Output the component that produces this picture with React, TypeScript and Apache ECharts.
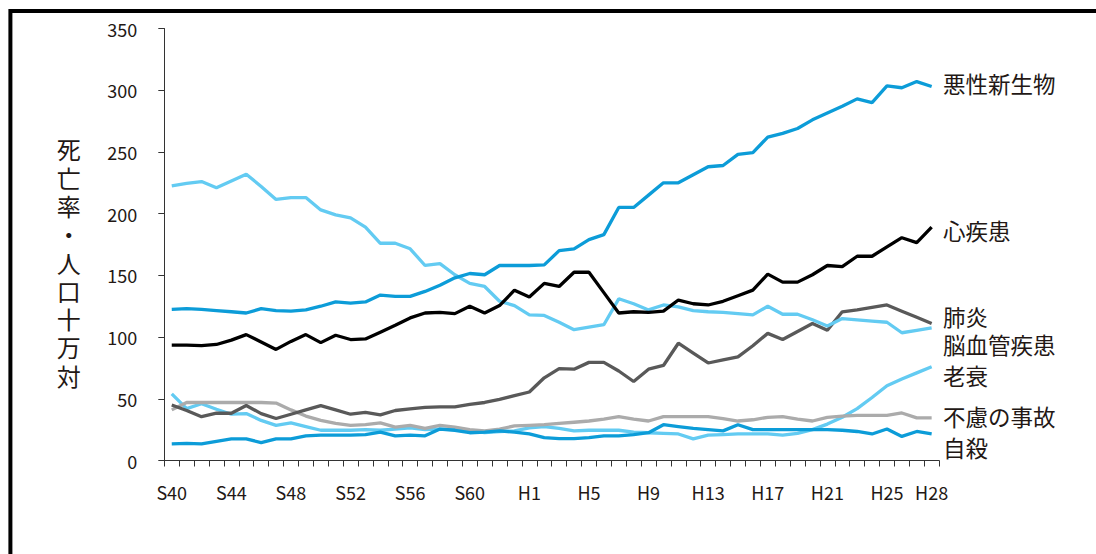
import React, { useEffect, useRef } from "react";
import * as echarts from "echarts";

const categories = [
  "S40","S41","S42","S43","S44","S45","S46","S47","S48","S49","S50","S51","S52","S53","S54","S55",
  "S56","S57","S58","S59","S60","S61","S62","S63","H1","H2","H3","H4","H5","H6","H7","H8","H9",
  "H10","H11","H12","H13","H14","H15","H16","H17","H18","H19","H20","H21","H22","H23","H24","H25",
  "H26","H27","H28",
];

const seriesNames = ["悪性新生物", "心疾患", "肺炎", "脳血管疾患", "老衰", "不慮の事故", "自殺"];

const cancer = [122.5, 123, 122.5, 121.5, 120.5, 119.5, 123, 121.5, 121, 122, 125, 128.5, 127.5, 128.5, 134, 133, 133, 137, 142, 148, 151.5, 150.5, 158, 158, 158, 158.5, 170, 171.5, 179, 183, 205, 205, 215, 225, 225, 231.5, 238, 239, 248, 249.5, 262, 265, 269, 276, 281.5, 287, 293, 290, 303.5, 302, 307, 303];
const heart = [93.5, 93.5, 93, 94, 97.5, 102, 96, 90, 96.5, 102, 95.5, 101.5, 98, 98.5, 104, 109.5, 115.5, 119.5, 120, 119, 125, 119.5, 125.5, 138, 132.5, 143.5, 141, 152.5, 152.5, 136, 119.5, 120.5, 120, 121, 130, 127, 126, 129, 133.5, 138, 151, 144.5, 144.5, 150.5, 158, 157, 165.5, 165.5, 173, 180.5, 176.5, 189];
const pneumonia = [45, 40.5, 35.5, 38.3, 38.3, 44.5, 38, 34, 37.5, 41, 44.5, 41, 37.5, 39, 37, 40.5, 41.8, 43, 43.5, 43.5, 45.5, 47, 49.5, 52.5, 55.5, 67, 74.5, 74, 79.5, 79.5, 72.5, 64, 74, 77, 95, 87, 79, 81.5, 84, 93, 103, 98, 104.5, 111, 105.5, 120.5, 122, 124, 126, 121, 116, 111];
const cerebro = [222.5, 224.5, 226, 221, 226.5, 232, 222, 211.5, 213, 213, 203, 199, 196.5, 189, 176, 176, 171.5, 158, 159.5, 150.5, 143.5, 141, 129, 125.5, 118, 117.5, 112, 106, 108, 110, 131, 127, 122, 126, 124.5, 121.5, 120.5, 120, 119, 118, 125, 118.5, 118.5, 114, 109, 115, 114, 113, 112, 103.5, 105.5, 107.5];
const senility = [54, 42, 46, 41.5, 37.5, 38, 32.5, 28.5, 30.5, 27.5, 24.5, 24.5, 24.5, 25, 24.5, 25.5, 26.5, 25, 25.5, 25, 24, 22.5, 23.5, 24, 26.5, 27.5, 26, 24, 24.5, 24.5, 24.5, 23, 22.5, 22, 21.5, 17.5, 20.5, 21, 21.5, 21.5, 21.5, 20.5, 22, 25, 29.5, 35, 42, 51, 60.5, 66, 71, 76];
const accident = [41, 47, 47, 47, 47, 47, 47, 46.5, 41, 36, 32.5, 30, 28.5, 29, 30.5, 27, 28.5, 26, 28.5, 27, 25, 24, 25.5, 28, 28.5, 29, 30, 31, 32, 33.5, 35.5, 33.5, 32, 35.5, 35.5, 35.5, 35.5, 34, 32, 33, 35, 35.5, 33.5, 32, 35, 36, 36.5, 36.5, 36.5, 38.5, 34.5, 34.5];
const suicide = [13.5, 13.8, 13.5, 15.5, 17.5, 17.5, 14.5, 17.5, 17.5, 20, 20.5, 20.5, 20.5, 21, 23, 20, 20.5, 20, 25.5, 24.5, 22.5, 23, 24, 23, 21.5, 18.5, 17.8, 17.8, 18.5, 20, 20, 21, 22.5, 29, 27.5, 26, 25, 24, 29, 25, 25, 25, 25, 25, 25, 24.5, 23.5, 21.5, 25.5, 19.5, 23.5, 21.5];

const yTicks = { min: 0, max: 350, interval: 50 };
const yAxisName = "死亡率・人口十万対";

const FONT = '"Noto Sans CJK JP", "Noto Sans", sans-serif';
const MID_BLUE = "#0C9CD8";
const LIGHT_BLUE = "#63CBF2";

export default function App() {
  const ref = useRef<HTMLDivElement>(null);

  useEffect(() => {
    if (!ref.current) return;
    const chart = echarts.init(ref.current, null, { renderer: "svg" });

    const seriesDefs = [
      { name: seriesNames[4], data: senility, color: LIGHT_BLUE },
      { name: seriesNames[5], data: accident, color: "#ABABAB" },
      { name: seriesNames[2], data: pneumonia, color: "#595959" },
      { name: seriesNames[6], data: suicide, color: MID_BLUE },
      { name: seriesNames[3], data: cerebro, color: LIGHT_BLUE },
      { name: seriesNames[1], data: heart, color: "#000000" },
      { name: seriesNames[0], data: cancer, color: MID_BLUE },
    ];

    const labelY: Record<string, number> = {
      "悪性新生物": 83,
      "心疾患": 230,
      "肺炎": 315.7,
      "脳血管疾患": 344,
      "老衰": 375.3,
      "不慮の事故": 416.3,
      "自殺": 446.7,
    };

    const nameChars = yAxisName.split("");
    const pitch = 28.3;
    const nameTop = 262 - ((nameChars.length - 1) * pitch) / 2;

    chart.setOption({
      animation: false,
      grid: { left: 164.3, right: 156.9, top: 28.5, bottom: 93.5, containLabel: false },
      xAxis: {
        type: "category",
        data: categories,
        boundaryGap: true,
        axisLine: { show: true, lineStyle: { color: "#333", width: 1 } },
        axisTick: { show: true, interval: 0, length: 6, lineStyle: { color: "#333", width: 1 } },
        axisLabel: {
          interval: (idx: number) => idx % 4 === 0 || idx === categories.length - 1,
          fontSize: 18,
          color: "#231815",
          fontFamily: FONT,
          margin: 22,
        },
        splitLine: { show: false },
      },
      yAxis: {
        type: "value",
        min: yTicks.min,
        max: yTicks.max,
        interval: yTicks.interval,
        axisLine: { show: true, lineStyle: { color: "#333", width: 1 } },
        axisTick: { show: true, length: 6, lineStyle: { color: "#333", width: 1 } },
        axisLabel: { fontSize: 18, color: "#231815", fontFamily: FONT, margin: 27 },
        splitLine: { show: false },
      },
      series: seriesDefs.map((s) => ({
        name: s.name,
        type: "line",
        data: s.data,
        symbol: "none",
        smooth: false,
        lineStyle: { color: s.color, width: 3.3 },
        itemStyle: { color: s.color },
      })),
      graphic: [
        {
          type: "rect",
          shape: { x: 10.4, y: 10.9, width: 1300, height: 800 },
          style: { fill: "none", stroke: "#000", lineWidth: 4 },
          silent: true,
        },
        ...nameChars.map((c, i) => ({
          type: "text",
          x: 68.7,
          y: nameTop + i * pitch,
          style: {
            text: c,
            fontSize: 24,
            lineHeight: 26,
            fontFamily: FONT,
            fill: "#231815",
            textAlign: "center",
            textVerticalAlign: "middle",
          },
        })),
        ...seriesNames.map((n) => ({
          type: "text",
          x: 943,
          y: labelY[n],
          style: {
            text: n,
            fontSize: 22.5,
            fontFamily: FONT,
            fill: "#231815",
            textAlign: "left",
            textVerticalAlign: "middle",
          },
        })),
      ],
    });

    return () => chart.dispose();
  }, []);

  return (
    <div
      ref={ref}
      style={{ position: "absolute", left: 0, top: 0, width: 1096, height: 554, background: "#fff" }}
    />
  );
}
